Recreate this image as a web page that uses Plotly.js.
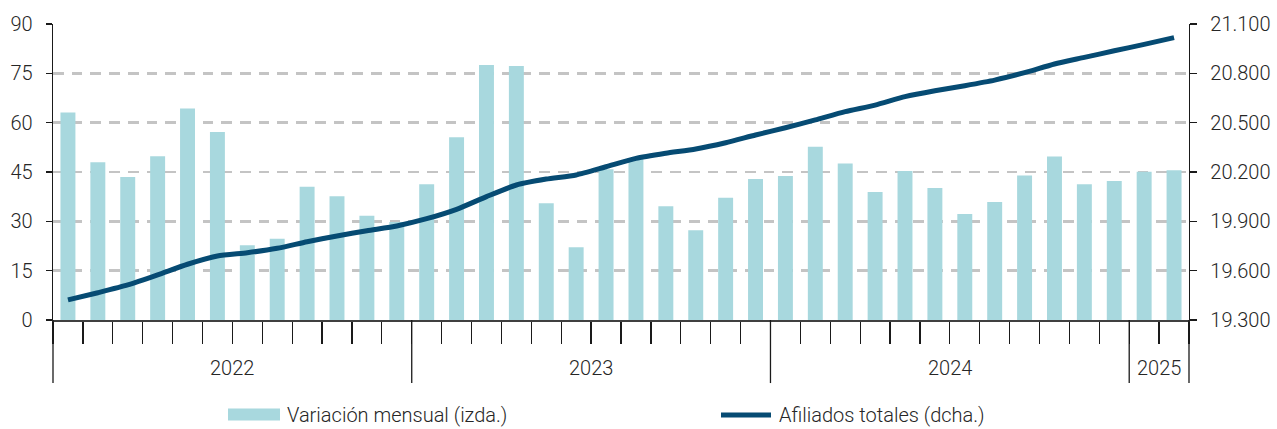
<!DOCTYPE html>
<html>
<head>
<meta charset="utf-8">
<script src="https://cdn.plot.ly/plotly-3.0.1.min.js"></script>
<style>html,body{margin:0;padding:0;background:#fff;}#chart{width:1277px;height:429px;}</style>
</head>
<body>
<div id="chart"></div>
<script>
// Categories (months)
var meses = [
  "ene-22","feb-22","mar-22","abr-22","may-22","jun-22","jul-22","ago-22","sep-22","oct-22","nov-22","dic-22",
  "ene-23","feb-23","mar-23","abr-23","may-23","jun-23","jul-23","ago-23","sep-23","oct-23","nov-23","dic-23",
  "ene-24","feb-24","mar-24","abr-24","may-24","jun-24","jul-24","ago-24","sep-24","oct-24","nov-24","dic-24",
  "ene-25","feb-25"
];
// Monthly variation (left axis)
var variacionMensual = [
  63.1, 48.0, 43.5, 49.8, 64.3, 57.2, 22.7, 24.7, 40.5, 37.6, 31.7, 29.8,
  41.3, 55.6, 77.5, 77.2, 35.5, 22.1, 45.8, 49.1, 34.6, 27.3, 37.2, 42.9,
  43.8, 52.7, 47.6, 38.9, 45.3, 40.1, 32.2, 35.9, 43.9, 49.7, 41.3, 42.3,
  45.1, 45.5
];
// Total affiliates (right axis)
var afiliadosTotales = [
  19422, 19466, 19513, 19574, 19639, 19689, 19709, 19736, 19776, 19811, 19843, 19872,
  19916, 19973, 20050, 20121, 20157, 20182, 20232, 20283, 20314, 20340, 20378, 20425,
  20469, 20517, 20567, 20607, 20658, 20694, 20725, 20759, 20804, 20857, 20897, 20937,
  20976, 21017
];
// Year groups
var years = ["2022", "2023", "2024", "2025"];
var yearCounts = [12, 12, 12, 2];
var leftTicks = [0, 15, 30, 45, 60, 75, 90];
var rightTicks = [19300, 19600, 19900, 20200, 20500, 20800, 21100];

var FONT = "Roboto, 'Liberation Sans', Arial, sans-serif";
var TXT = "#262626";
var BAR = "#a8d8de";
var LINE = "#064b73";

var traces = [
  {
    type: "bar", x: meses, y: variacionMensual, name: "Variación mensual (izda.)",
    marker: {color: BAR}, yaxis: "y", hoverinfo: "x+y"
  },
  {
    type: "scatter", mode: "lines", x: meses, y: afiliadosTotales, name: "Afiliados totales (dcha.)",
    line: {color: LINE, width: 5, shape: "spline", smoothing: 0.6}, yaxis: "y2"
  }
];

var N = meses.length;
var shapes = [];
var annotations = [];
// year dividers (paper x from category boundaries)
var acc = 0;
var bounds = [0];
for (var i = 0; i < yearCounts.length; i++) { acc += yearCounts[i]; bounds.push(acc); }
bounds.forEach(function (b) {
  shapes.push({type: "line", xref: "paper", yref: "paper", x0: b / N, x1: b / N, y0: 0, y1: -0.213,
    line: {color: "#1a1a1a", width: 1.3}});
});
for (var j = 0; j < years.length; j++) {
  var mid = (bounds[j] + bounds[j + 1]) / 2 / N;
  annotations.push({xref: "paper", yref: "paper", x: mid, y: -0.162, text: years[j], showarrow: false,
    xanchor: "center", yanchor: "middle", font: {family: FONT, size: 20, color: TXT, weight: 300}});
}
// custom legend
shapes.push({type: "rect", xref: "paper", yref: "paper", xsizemode: "pixel", xanchor: 0,
  x0: 175, x1: 227, y0: -0.299, y1: -0.3395, fillcolor: BAR, line: {width: 0}});
annotations.push({xref: "paper", yref: "paper", x: 0, xshift: 232, y: -0.321, xanchor: "left", yanchor: "middle",
  text: "Variación mensual (izda.)", showarrow: false, font: {family: FONT, size: 20, color: TXT, weight: 300}});
shapes.push({type: "line", xref: "paper", yref: "paper", xsizemode: "pixel", xanchor: 0,
  x0: 668, x1: 718, y0: -0.321, y1: -0.321, line: {color: LINE, width: 5}});
annotations.push({xref: "paper", yref: "paper", x: 0, xshift: 724, y: -0.321, xanchor: "left", yanchor: "middle",
  text: "Afiliados totales (dcha.)", showarrow: false, font: {family: FONT, size: 20, color: TXT, weight: 300}});

var layout = {
  width: 1277, height: 429,
  margin: {l: 53, r: 88, t: 24, b: 109, pad: 0},
  paper_bgcolor: "#fff", plot_bgcolor: "#fff",
  separators: ",.",
  showlegend: false,
  bargap: 0.5,
  font: {family: FONT, size: 20, color: TXT, weight: 300},
  xaxis: {
    type: "category", range: [-0.5, N - 0.5], fixedrange: true,
    showticklabels: false, tickson: "boundaries", ticks: "outside", ticklen: 22, tickwidth: 1.3, tickcolor: "#1a1a1a",
    showline: true, linecolor: "#404040", linewidth: 1.5, showgrid: false, zeroline: false
  },
  yaxis: {
    range: [0, 90], tickvals: leftTicks, ticks: "outside", ticklen: 6, tickwidth: 1.3, tickcolor: "#1a1a1a",
    showline: true, linecolor: "#1a1a1a", linewidth: 1.3,
    showgrid: true, gridcolor: "#c4c4c4", gridwidth: 2.6, griddash: "10.7px,8px",
    zeroline: false, ticklabelstandoff: 9,
    tickfont: {family: FONT, size: 20, color: TXT, weight: 300}
  },
  yaxis2: {
    overlaying: "y", side: "right", range: [19300, 21100], tickvals: rightTicks, tickformat: ",d",
    ticks: "outside", ticklen: 7, tickwidth: 1.3, tickcolor: "#1a1a1a",
    showline: true, linecolor: "#1a1a1a", linewidth: 1.3, showgrid: false, zeroline: false,
    ticklabelstandoff: 9,
    tickfont: {family: FONT, size: 20, color: TXT, weight: 300}
  },
  shapes: shapes,
  annotations: annotations
};

Plotly.newPlot("chart", traces, layout, {staticPlot: true, displayModeBar: false});
</script>
</body>
</html>
